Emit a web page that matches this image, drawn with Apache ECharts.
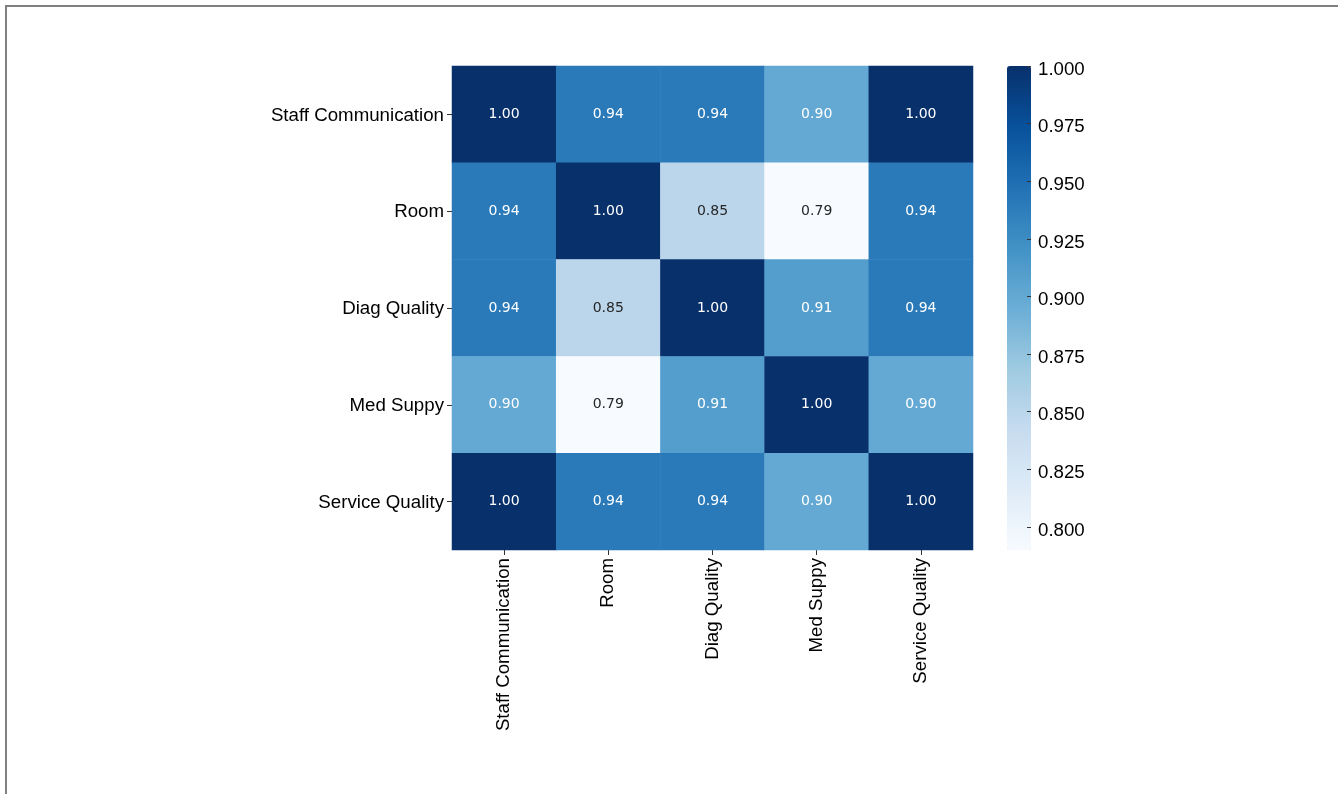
<!DOCTYPE html>
<html>
<head>
<meta charset="utf-8">
<script src="https://cdn.jsdelivr.net/npm/echarts@6/dist/echarts.min.js"></script>
<style>
html,body{margin:0;padding:0;background:#fff;overflow:hidden;}
#wrap{position:relative;width:1338px;height:794px;overflow:hidden;}
#chart{position:absolute;left:0;top:0;width:1338px;height:794px;}
#frame{position:absolute;left:5px;top:5px;width:2000px;height:2000px;border-left:2px solid #808080;border-top:2px solid #808080;pointer-events:none;}
</style>
</head>
<body>
<div id="wrap"><div id="chart"></div><div id="frame"></div></div>
<script>
const categories = ['Staff Communication', 'Room', 'Diag Quality', 'Med Suppy', 'Service Quality'];
const rowStaff   = [1.00, 0.94, 0.94, 0.90, 1.00];
const rowRoom    = [0.94, 1.00, 0.85, 0.79, 0.94];
const rowDiag    = [0.94, 0.85, 1.00, 0.91, 0.94];
const rowMed     = [0.90, 0.79, 0.91, 1.00, 0.90];
const rowService = [1.00, 0.94, 0.94, 0.90, 1.00];
const colorbarMin = 0.79;
const colorbarMax = 1.0;
const colorbarTicks = [0.800, 0.825, 0.850, 0.875, 0.900, 0.925, 0.950, 0.975, 1.000];

const matrix = [rowStaff, rowRoom, rowDiag, rowMed, rowService];
const heatData = [];
matrix.forEach((row, yi) => row.forEach((v, xi) => heatData.push([xi, yi, v])));

const blues = ['#f7fbff','#deebf7','#c6dbef','#9ecae1','#6baed6','#4292c6','#2171b5','#08519c','#08306b'];
const labelFont = 'Liberation Sans, Arial, sans-serif';

const chart = echarts.init(document.getElementById('chart'), null, {renderer: 'canvas'});
chart.setOption({
  animation: false,
  backgroundColor: '#ffffff',
  grid: [
    {left: 452, top: 66, width: 521, height: 484, containLabel: false},
    {left: 1007, top: 66, width: 24, height: 484, containLabel: false}
  ],
  xAxis: [
    {
      type: 'category', gridIndex: 0, data: categories, position: 'bottom',
      axisLine: {show: false},
      axisTick: {show: true, alignWithLabel: true, length: 5, lineStyle: {color: '#333', width: 1}},
      axisLabel: {rotate: 90, margin: 8, fontSize: 18.7, color: '#000', fontFamily: labelFont},
      splitLine: {show: false}
    },
    {type: 'value', gridIndex: 1, show: false, min: 0, max: 1}
  ],
  yAxis: [
    {
      type: 'category', gridIndex: 0, data: categories, inverse: true,
      axisLine: {show: false},
      axisTick: {show: true, alignWithLabel: true, length: 5, lineStyle: {color: '#333', width: 1}},
      axisLabel: {margin: 8, fontSize: 18.7, color: '#000', fontFamily: labelFont, verticalAlign: 'top', lineHeight: 2},
      splitLine: {show: false}
    },
    {
      type: 'value', gridIndex: 1, position: 'right', min: colorbarMin, max: colorbarMax, z: 10,
      axisLine: {show: false, onZero: false},
      splitLine: {show: false},
      axisTick: {show: true, inside: true, length: 4, customValues: colorbarTicks, lineStyle: {color: '#333', width: 1}},
      axisLabel: {show: true, margin: 7, fontSize: 18.7, color: '#000', fontFamily: labelFont, verticalAlign: 'top', lineHeight: 7,
        customValues: colorbarTicks, formatter: v => v.toFixed(3)}
    }
  ],
  visualMap: {
    type: 'continuous', min: colorbarMin, max: colorbarMax, calculable: false,
    seriesIndex: 0, orient: 'vertical', left: 1007, top: 66, padding: 0, z: 4,
    itemWidth: 24, itemHeight: 484, text: null, hoverLink: false,
    inRange: {color: blues}
  },
  series: [{
    type: 'heatmap', xAxisIndex: 0, yAxisIndex: 0, data: heatData,
    itemStyle: {borderWidth: 0},
    emphasis: {disabled: true},
    label: {
      show: true,
      formatter: p => (p.value[2] < 0.88 ? '{d|' : '{w|') + p.value[2].toFixed(2) + '}',
      rich: {
        w: {color: '#ffffff', fontSize: 14, fontFamily: 'DejaVu Sans'},
        d: {color: '#262626', fontSize: 14, fontFamily: 'DejaVu Sans'}
      }
    }
  }]
});
</script>
</body>
</html>
